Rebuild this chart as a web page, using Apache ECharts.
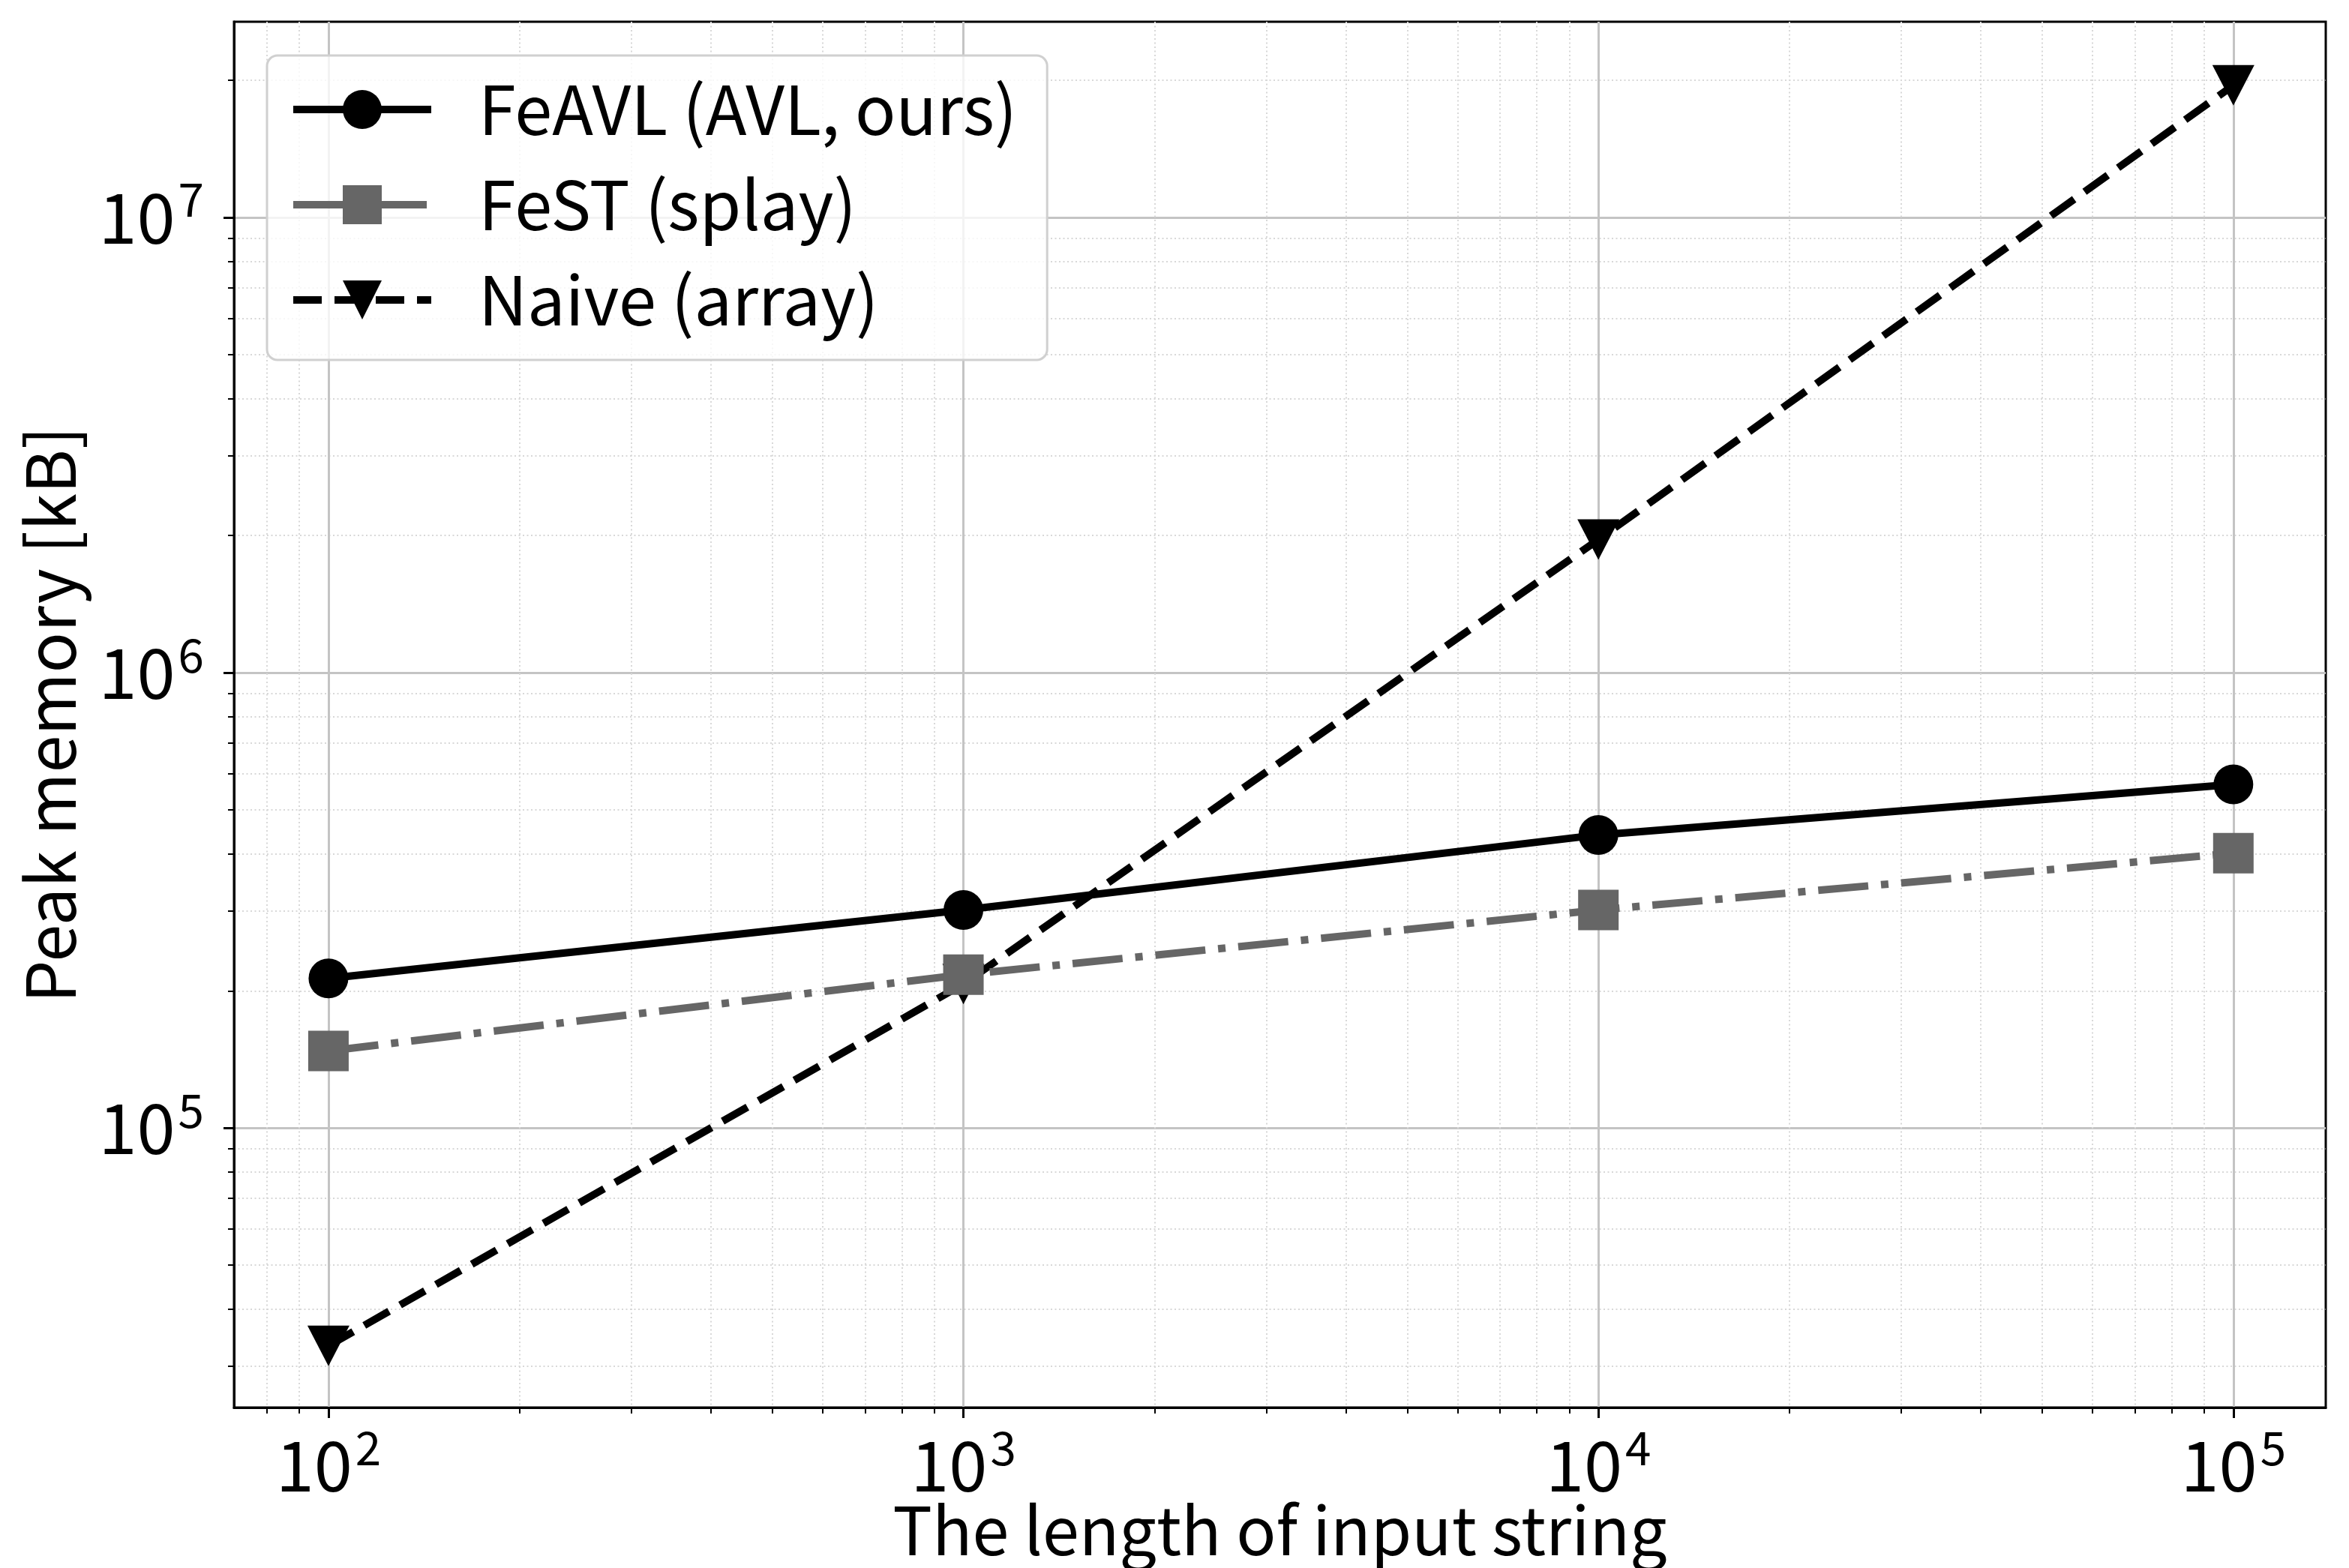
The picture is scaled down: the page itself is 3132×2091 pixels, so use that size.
<!DOCTYPE html>
<html>
<head>
<meta charset="utf-8">
<script src="https://cdn.jsdelivr.net/npm/echarts@6/dist/echarts.min.js"></script>
<style>
  html, body { margin: 0; padding: 0; background: #fff; }
  #chart { width: 3132px; height: 2091px; }
</style>
</head>
<body>
<div id="chart"></div>
<script>
// input length (x) and peak memory in kB (y)
const lengths = [100, 1000, 10000, 100000];
const feavl = [213000, 301000, 440000, 568000];
const fest = [147500, 217000, 301000, 401000];
const naive = [33200, 207000, 1960000, 19500000];

const seriesNames = ["FeAVL (AVL, ours)", "FeST (splay)", "Naive (array)"];

// ticks
const majorX = [100, 1000, 10000, 100000];
const minorX = [80, 90, 200, 300, 400, 500, 600, 700, 800, 900,
  2000, 3000, 4000, 5000, 6000, 7000, 8000, 9000,
  20000, 30000, 40000, 50000, 60000, 70000, 80000, 90000];
const majorY = [100000, 1000000, 10000000];
const minorY = [30000, 40000, 50000, 60000, 70000, 80000, 90000,
  200000, 300000, 400000, 500000, 600000, 700000, 800000, 900000,
  2000000, 3000000, 4000000, 5000000, 6000000, 7000000, 8000000, 9000000,
  20000000];

const xRange = [71, 139800];
const yRange = [24300, 26900000];

const FONT = "'Noto Sans CJK JP', 'Noto Sans', sans-serif";

function pairs(ys) {
  return lengths.map(function (x, i) { return [x, ys[i]]; });
}

function powLabel(v) {
  const e = Math.round(Math.log10(v));
  return "{b|10}{s|" + e + "}";
}

const labelRich = {
  b: { fontSize: 92, fontFamily: FONT, color: "#000", lineHeight: 110 },
  s: { fontSize: 62, fontFamily: FONT, color: "#000", verticalAlign: "top", lineHeight: 110, padding: [0, 0, 40, 4] },
};

const chart = echarts.init(document.getElementById("chart"));

const option = {
  backgroundColor: "#fff",
  animation: false,
  textStyle: { fontFamily: FONT },
  grid: {
    left: 312,
    right: 31,
    top: 29,
    bottom: 214,
    show: true,
    borderColor: "#000",
    borderWidth: 3,
    containLabel: false,
    outerBoundsMode: "none",
  },
  legend: {
    data: seriesNames,
    orient: "vertical",
    left: 356,
    top: 74,
    padding: [27, 40, 35, 30],
    itemWidth: 184,
    itemHeight: 65,
    itemGap: 37,
    backgroundColor: "rgba(255,255,255,0.8)",
    borderColor: "#d0d0d0",
    borderWidth: 3,
    borderRadius: 14,
    textStyle: { fontSize: 90, color: "#000", fontFamily: FONT, padding: [0, 0, 0, 58] },
    lineStyle: { width: 10 },
  },
  xAxis: [
    {
      type: "log",
      logBase: 10,
      min: xRange[0],
      max: xRange[1],
      position: "bottom",
      name: "The length of input string",
      nameLocation: "middle",
      nameGap: 120,
      nameMoveOverlap: false,
      nameTextStyle: { fontSize: 88, color: "#000", fontFamily: FONT },
      axisLine: { show: true, lineStyle: { color: "#000", width: 3 } },
      axisTick: { show: true, inside: false, length: 14, customValues: majorX, lineStyle: { color: "#000", width: 3 } },
      axisLabel: {
        show: true,
        margin: 22,
        customValues: majorX,
        formatter: powLabel,
        rich: labelRich,
      },
      splitLine: { show: true, lineStyle: { color: "#c4c4c4", width: 3 } },
    },
    {
      type: "log",
      logBase: 10,
      min: xRange[0],
      max: xRange[1],
      position: "bottom",
      axisLine: { show: false },
      axisTick: { show: true, inside: false, length: 8, customValues: minorX, lineStyle: { color: "#000", width: 2 } },
      axisLabel: { show: false },
      splitLine: { show: true, lineStyle: { color: "#d8d8d8", width: 2, type: [2, 3.5] } },
    },
  ],
  yAxis: [
    {
      type: "log",
      logBase: 10,
      min: yRange[0],
      max: yRange[1],
      position: "left",
      name: "Peak memory [kB]",
      nameLocation: "middle",
      nameGap: 200,
      nameRotate: 90,
      nameMoveOverlap: false,
      nameTextStyle: { fontSize: 90, color: "#000", fontFamily: FONT },
      axisLine: { show: true, lineStyle: { color: "#000", width: 3 } },
      axisTick: { show: true, inside: false, length: 14, customValues: majorY, lineStyle: { color: "#000", width: 3 } },
      axisLabel: {
        show: true,
        margin: 40,
        customValues: majorY,
        formatter: powLabel,
        rich: labelRich,
      },
      splitLine: { show: true, lineStyle: { color: "#c4c4c4", width: 3 } },
    },
    {
      type: "log",
      logBase: 10,
      min: yRange[0],
      max: yRange[1],
      position: "left",
      axisLine: { show: false },
      axisTick: { show: true, inside: false, length: 8, customValues: minorY, lineStyle: { color: "#000", width: 2 } },
      axisLabel: { show: false },
      splitLine: { show: true, lineStyle: { color: "#d8d8d8", width: 2, type: [2, 3.5] } },
    },
  ],
  series: [
    {
      name: seriesNames[0],
      type: "line",
      xAxisIndex: 0,
      yAxisIndex: 0,
      data: pairs(feavl),
      z: 3,
      symbol: "circle",
      symbolSize: 53,
      itemStyle: { color: "#000" },
      lineStyle: { color: "#000", width: 10 },
    },
    {
      name: seriesNames[1],
      type: "line",
      xAxisIndex: 0,
      yAxisIndex: 0,
      data: pairs(fest),
      z: 4,
      symbol: "rect",
      symbolSize: 54,
      itemStyle: { color: "#666666" },
      lineStyle: { color: "#666666", width: 10, type: [67, 17, 10, 17], cap: "butt" },
    },
    {
      name: seriesNames[2],
      type: "line",
      xAxisIndex: 0,
      yAxisIndex: 0,
      data: pairs(naive),
      z: 2,
      symbol: "triangle",
      symbolRotate: 180,
      symbolSize: [56, 54],
      itemStyle: { color: "#000" },
      lineStyle: { color: "#000", width: 10, type: [38, 17], cap: "butt" },
    },
  ],
};

chart.setOption(option);
</script>
</body>
</html>
